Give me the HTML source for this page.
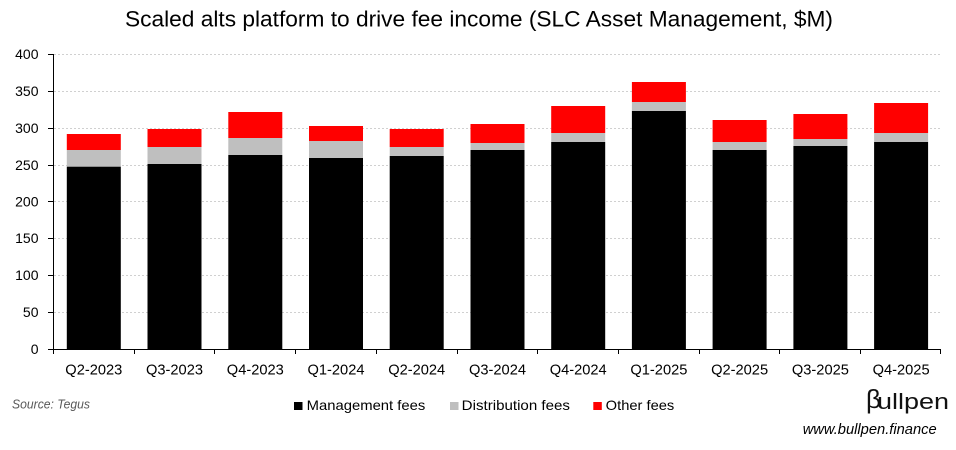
<!DOCTYPE html>
<html>
<head>
<meta charset="utf-8">
<style>
html,body{margin:0;padding:0;background:#fff;}
svg{display:block;}
text{font-family:"Liberation Sans",sans-serif;}
</style>
</head>
<body>
<svg width="956" height="450" viewBox="0 0 956 450" xmlns="http://www.w3.org/2000/svg">
<rect width="956" height="450" fill="#fff"/>
<text x="125" y="26.7" font-size="22" fill="#000" textLength="708" lengthAdjust="spacingAndGlyphs">Scaled alts platform to drive fee income (SLC Asset Management, $M)</text>

<g stroke="#d0d0d0" stroke-width="1" stroke-dasharray="2,2">
<line x1="54" y1="54.5" x2="941" y2="54.5"/>
<line x1="54" y1="91.5" x2="941" y2="91.5"/>
<line x1="54" y1="128.5" x2="941" y2="128.5"/>
<line x1="54" y1="165.5" x2="941" y2="165.5"/>
<line x1="54" y1="201.5" x2="941" y2="201.5"/>
<line x1="54" y1="238.5" x2="941" y2="238.5"/>
<line x1="54" y1="275.5" x2="941" y2="275.5"/>
<line x1="54" y1="312.5" x2="941" y2="312.5"/>
</g>

<g>
<rect x="66.8" y="134" width="54" height="16" fill="#ff0000"/>
<rect x="66.8" y="150" width="54" height="16.7" fill="#bfbfbf"/>
<rect x="66.8" y="166.7" width="54" height="182.8" fill="#000"/>
<rect x="147.5" y="129" width="54" height="18" fill="#ff0000"/>
<rect x="147.5" y="147" width="54" height="17" fill="#bfbfbf"/>
<rect x="147.5" y="164" width="54" height="185.5" fill="#000"/>
<rect x="228.3" y="112" width="54" height="26" fill="#ff0000"/>
<rect x="228.3" y="138" width="54" height="17" fill="#bfbfbf"/>
<rect x="228.3" y="155" width="54" height="194.5" fill="#000"/>
<rect x="309" y="126" width="54" height="15" fill="#ff0000"/>
<rect x="309" y="141" width="54" height="17" fill="#bfbfbf"/>
<rect x="309" y="158" width="54" height="191.5" fill="#000"/>
<rect x="389.7" y="129" width="54" height="18" fill="#ff0000"/>
<rect x="389.7" y="147" width="54" height="9" fill="#bfbfbf"/>
<rect x="389.7" y="156" width="54" height="193.5" fill="#000"/>
<rect x="470.5" y="124" width="54" height="19" fill="#ff0000"/>
<rect x="470.5" y="143" width="54" height="7" fill="#bfbfbf"/>
<rect x="470.5" y="150" width="54" height="199.5" fill="#000"/>
<rect x="551.2" y="106" width="54" height="27" fill="#ff0000"/>
<rect x="551.2" y="133" width="54" height="9" fill="#bfbfbf"/>
<rect x="551.2" y="142" width="54" height="207.5" fill="#000"/>
<rect x="631.9" y="82" width="54" height="20" fill="#ff0000"/>
<rect x="631.9" y="102" width="54" height="9" fill="#bfbfbf"/>
<rect x="631.9" y="111" width="54" height="238.5" fill="#000"/>
<rect x="712.6" y="120" width="54" height="22" fill="#ff0000"/>
<rect x="712.6" y="142" width="54" height="8" fill="#bfbfbf"/>
<rect x="712.6" y="150" width="54" height="199.5" fill="#000"/>
<rect x="793.4" y="114" width="54" height="25" fill="#ff0000"/>
<rect x="793.4" y="139" width="54" height="7" fill="#bfbfbf"/>
<rect x="793.4" y="146" width="54" height="203.5" fill="#000"/>
<rect x="874.1" y="103" width="54" height="30" fill="#ff0000"/>
<rect x="874.1" y="133" width="54" height="9" fill="#bfbfbf"/>
<rect x="874.1" y="142" width="54" height="207.5" fill="#000"/>
</g>

<g stroke="#000" stroke-width="1">
<line x1="53.5" y1="54" x2="53.5" y2="350"/>
<line x1="53" y1="349.5" x2="941" y2="349.5"/>
<line x1="48" y1="54.5" x2="53.5" y2="54.5"/>
<line x1="48" y1="91.5" x2="53.5" y2="91.5"/>
<line x1="48" y1="128.5" x2="53.5" y2="128.5"/>
<line x1="48" y1="165.5" x2="53.5" y2="165.5"/>
<line x1="48" y1="201.5" x2="53.5" y2="201.5"/>
<line x1="48" y1="238.5" x2="53.5" y2="238.5"/>
<line x1="48" y1="275.5" x2="53.5" y2="275.5"/>
<line x1="48" y1="312.5" x2="53.5" y2="312.5"/>
<line x1="48" y1="349.5" x2="53.5" y2="349.5"/>
<line x1="53.5" y1="349" x2="53.5" y2="354"/>
<line x1="134.5" y1="349" x2="134.5" y2="354"/>
<line x1="214.5" y1="349" x2="214.5" y2="354"/>
<line x1="295.5" y1="349" x2="295.5" y2="354"/>
<line x1="376.5" y1="349" x2="376.5" y2="354"/>
<line x1="457.5" y1="349" x2="457.5" y2="354"/>
<line x1="537.5" y1="349" x2="537.5" y2="354"/>
<line x1="618.5" y1="349" x2="618.5" y2="354"/>
<line x1="699.5" y1="349" x2="699.5" y2="354"/>
<line x1="779.5" y1="349" x2="779.5" y2="354"/>
<line x1="860.5" y1="349" x2="860.5" y2="354"/>
<line x1="940.5" y1="349" x2="940.5" y2="354"/>
</g>

<g font-size="14" fill="#000" text-anchor="end">
<text x="38.5" y="59">400</text>
<text x="38.5" y="96">350</text>
<text x="38.5" y="133">300</text>
<text x="38.5" y="170">250</text>
<text x="38.5" y="206.5">200</text>
<text x="38.5" y="243">150</text>
<text x="38.5" y="280">100</text>
<text x="38.5" y="317">50</text>
<text x="38.5" y="354">0</text>
</g>

<g font-size="15" fill="#000" text-anchor="middle">
<text x="93.8" y="374.3" textLength="57" lengthAdjust="spacingAndGlyphs">Q2-2023</text>
<text x="174.5" y="374.3" textLength="57" lengthAdjust="spacingAndGlyphs">Q3-2023</text>
<text x="255.3" y="374.3" textLength="57" lengthAdjust="spacingAndGlyphs">Q4-2023</text>
<text x="336" y="374.3" textLength="57" lengthAdjust="spacingAndGlyphs">Q1-2024</text>
<text x="416.7" y="374.3" textLength="57" lengthAdjust="spacingAndGlyphs">Q2-2024</text>
<text x="497.5" y="374.3" textLength="57" lengthAdjust="spacingAndGlyphs">Q3-2024</text>
<text x="578.2" y="374.3" textLength="57" lengthAdjust="spacingAndGlyphs">Q4-2024</text>
<text x="658.9" y="374.3" textLength="57" lengthAdjust="spacingAndGlyphs">Q1-2025</text>
<text x="739.6" y="374.3" textLength="57" lengthAdjust="spacingAndGlyphs">Q2-2025</text>
<text x="820.4" y="374.3" textLength="57" lengthAdjust="spacingAndGlyphs">Q3-2025</text>
<text x="901.1" y="374.3" textLength="57" lengthAdjust="spacingAndGlyphs">Q4-2025</text>
</g>

<text x="12" y="408.5" font-size="13" font-style="italic" fill="#595959" textLength="78" lengthAdjust="spacingAndGlyphs">Source: Tegus</text>

<rect x="294" y="402" width="8.5" height="8" fill="#000"/>
<text x="306.7" y="410" font-size="14" fill="#000" textLength="118.6" lengthAdjust="spacingAndGlyphs">Management fees</text>
<rect x="450" y="402" width="8.5" height="8" fill="#bfbfbf"/>
<text x="461.7" y="410" font-size="14" fill="#000" textLength="108.3" lengthAdjust="spacingAndGlyphs">Distribution fees</text>
<rect x="593.3" y="402" width="8.5" height="8" fill="#ff0000"/>
<text x="605.7" y="410" font-size="14" fill="#000" textLength="68.6" lengthAdjust="spacingAndGlyphs">Other fees</text>

<text x="866" y="408" font-size="26" fill="#111">β</text>
<text x="877" y="409" font-size="22" fill="#111" textLength="72" lengthAdjust="spacingAndGlyphs">ullpen</text>
<text x="802.7" y="434" font-size="15" font-style="italic" fill="#000" textLength="134" lengthAdjust="spacingAndGlyphs">www.bullpen.finance</text>
</svg>
</body>
</html>
